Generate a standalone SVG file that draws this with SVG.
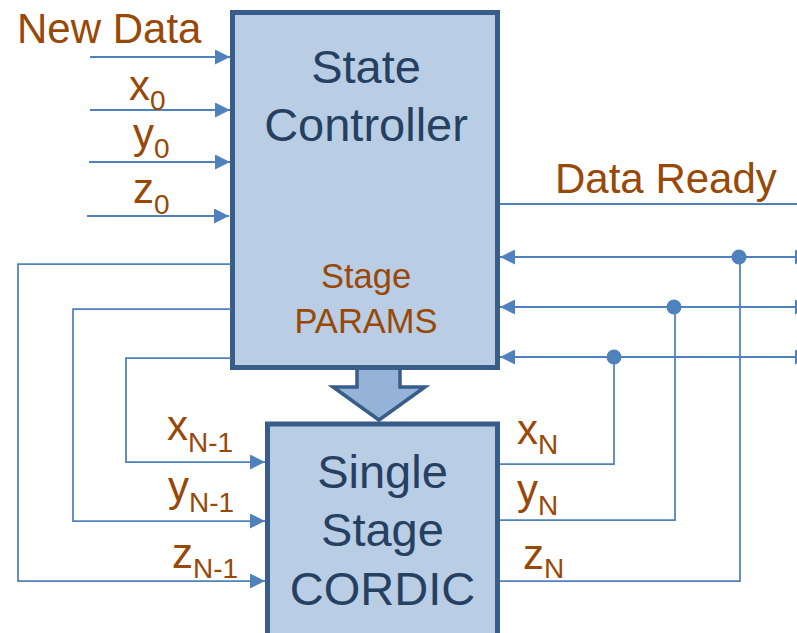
<svg xmlns="http://www.w3.org/2000/svg" width="797" height="633" viewBox="0 0 797 633">
<style>
.box{fill:#B9CDE5;stroke:#385D8A;stroke-width:5}
.ln{fill:none;stroke:#4F81BD;stroke-width:2}
.lp{fill:none;stroke:#4F81BD;stroke-width:1.75}
.lbl{font-family:"Liberation Sans",Arial,sans-serif;font-size:42px;fill:#984807}
.sub{font-size:28px}
.big{font-family:"Liberation Sans",Arial,sans-serif;font-size:47px;fill:#254061;text-anchor:middle}
.par{font-family:"Liberation Sans",Arial,sans-serif;font-size:34.5px;fill:#984807;text-anchor:middle}
</style>
<defs>
<marker id="ah" markerWidth="15" markerHeight="15" refX="15" refY="7.5" orient="auto-start-reverse" markerUnits="userSpaceOnUse">
<path d="M0,0 L15,7.5 L0,15 z" fill="#4F81BD"/>
</marker>
</defs>
<g id="stage-arrow">
<polygon points="357,362 400,362 400,387 425,387 379,420 333,387 357,387" fill="#95B3D7" stroke="#385D8A" stroke-width="3.5" stroke-linejoin="miter"/>
</g>
<g id="state-controller">
<rect class="box" x="232.5" y="12.5" width="265" height="355"/>
<text class="big" x="366" y="83">State</text>
<text class="big" x="366" y="141">Controller</text>
<text class="par" x="366" y="288">Stage</text>
<text class="par" x="366" y="333">PARAMS</text>
</g>
<g id="single-stage-cordic">
<rect class="box" x="267.5" y="424" width="230" height="220"/>
<text class="big" x="382.5" y="488">Single</text>
<text class="big" x="382.5" y="546">Stage</text>
<text class="big" x="382.5" y="605">CORDIC</text>
</g>
<g id="connectors">
<line class="ln" x1="90" y1="57" x2="230" y2="57" marker-end="url(#ah)"/>
<line class="ln" x1="90" y1="110" x2="230" y2="110" marker-end="url(#ah)"/>
<line class="ln" x1="89" y1="162" x2="230" y2="162" marker-end="url(#ah)"/>
<line class="ln" x1="87" y1="216" x2="229" y2="216" marker-end="url(#ah)"/>
<path class="lp" d="M231,264 H18 V581 H265" marker-end="url(#ah)"/>
<path class="lp" d="M231,309 H73 V521 H265" marker-end="url(#ah)"/>
<path class="lp" d="M231,358 H126 V462 H265" marker-end="url(#ah)"/>
<path class="lp" d="M500,464 H614 V357"/>
<path class="lp" d="M500,520 H675 V307"/>
<path class="lp" d="M500,581 H740 V257"/>
<line class="ln" x1="500" y1="204" x2="797" y2="204"/>
<line class="ln" x1="810" y1="257" x2="500" y2="257" marker-start="url(#ah)" marker-end="url(#ah)"/>
<line class="ln" x1="810" y1="307" x2="500" y2="307" marker-start="url(#ah)" marker-end="url(#ah)"/>
<line class="ln" x1="810" y1="357" x2="500" y2="357" marker-start="url(#ah)" marker-end="url(#ah)"/>
<circle cx="739" cy="257" r="7.5" fill="#4F81BD"/>
<circle cx="674" cy="307" r="7.5" fill="#4F81BD"/>
<circle cx="614" cy="357" r="7.5" fill="#4F81BD"/>
</g>
<g id="labels">
<text class="lbl" x="17" y="43">New Data</text>
<text class="lbl" x="129" y="100">x<tspan class="sub" dy="10">0</tspan></text>
<text class="lbl" x="133" y="148">y<tspan class="sub" dy="10">0</tspan></text>
<text class="lbl" x="133" y="203">z<tspan class="sub" dy="11">0</tspan></text>
<text class="lbl" x="555" y="193">Data Ready</text>
<text class="lbl" x="167" y="440">x<tspan class="sub" dy="12">N-1</tspan></text>
<text class="lbl" x="168" y="501">y<tspan class="sub" dy="11">N-1</tspan></text>
<text class="lbl" x="172" y="568">z<tspan class="sub" dy="10">N-1</tspan></text>
<text class="lbl" x="517" y="444">x<tspan class="sub" dy="10">N</tspan></text>
<text class="lbl" x="517" y="504">y<tspan class="sub" dy="11">N</tspan></text>
<text class="lbl" x="523" y="569">z<tspan class="sub" dy="9">N</tspan></text>
</g>
</svg>
